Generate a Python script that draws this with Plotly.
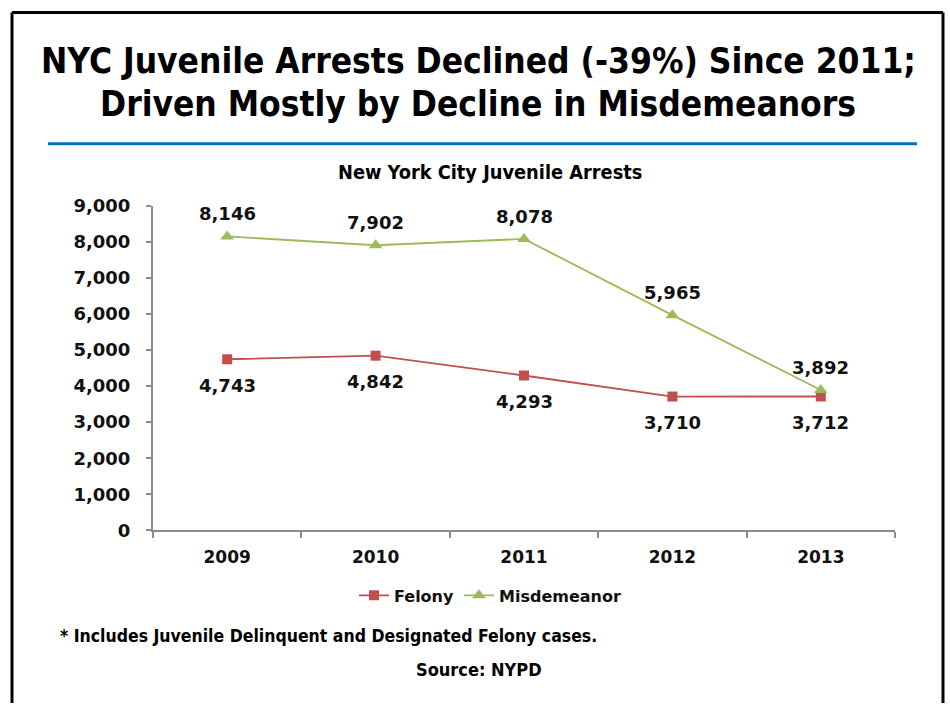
import plotly.graph_objects as go

years = ["2009", "2010", "2011", "2012", "2013"]
felony = [4743, 4842, 4293, 3710, 3712]
misdemeanor = [8146, 7902, 8078, 5965, 3892]
y_ticks = [0, 1000, 2000, 3000, 4000, 5000, 6000, 7000, 8000, 9000]

W, H = 950, 713
# the page is photographed with a small vertical offset/compression; compensate
Y_OFF, Y_SC = 10.3, 0.971

def px(x):
    return x / W

def py(y):
    yf = (y - Y_OFF) / Y_SC
    return 1 - yf / H

def sh(d):
    return d / Y_SC

RED = "#C0504D"
GREEN = "#9BBB59"
AXIS = "#8c8c8c"
NARROW = "Liberation Sans Narrow, DejaVu Sans Condensed, Arial Narrow, sans-serif"
WIDE = "DejaVu Sans, Verdana, sans-serif"
TXT = "#111111"

fig = go.Figure()
fig.add_trace(go.Scatter(x=years, y=felony, name="Felony", mode="lines+markers",
                         line=dict(color=RED, width=1.8),
                         marker=dict(symbol="square", size=10, color=RED)))
fig.add_trace(go.Scatter(x=years, y=misdemeanor, name="Misdemeanor", mode="lines+markers",
                         line=dict(color=GREEN, width=1.8),
                         marker=dict(symbol="triangle-up", size=12, color=GREEN)))

ann = []
for i, v in enumerate(felony):
    ann.append(dict(x=i, y=v, xref="x", yref="y", text=f"{v:,}", showarrow=False,
                    xanchor="center", yanchor="middle", yshift=-sh(25),
                    font=dict(family=WIDE, size=18, color=TXT, weight="bold")))
for i, v in enumerate(misdemeanor):
    ann.append(dict(x=i, y=v, xref="x", yref="y", text=f"{v:,}", showarrow=False,
                    xanchor="center", yanchor="middle", yshift=sh(22),
                    font=dict(family=WIDE, size=18, color=TXT, weight="bold")))

def ptext(x, y, text, size, anchor="center", family=NARROW):
    return dict(x=px(x), y=py(y), xref="paper", yref="paper", showarrow=False,
                xanchor=anchor, yanchor="middle", text=text,
                font=dict(family=family, size=size, color="#000000", weight="bold"))

ann += [
    ptext(478, 60, "NYC Juvenile Arrests Declined (-39%) Since 2011;", 35),
    ptext(478, 103, "Driven Mostly by Decline in Misdemeanors", 35),
    ptext(490, 172, "New York City Juvenile Arrests", 19.8),
    ptext(58, 636, "* Includes Juvenile Delinquent and Designated Felony cases.", 17.5, anchor="left"),
    ptext(479, 669, "Source: NYPD", 18),
]

def pline(x0, y0, x1, y1, color, width):
    return dict(type="line", xref="paper", yref="paper", x0=px(x0), x1=px(x1),
                y0=y0, y1=y1, line=dict(color=color, width=width))

top = 1 - 1.5 / H
shapes = [
    pline(12, top, 943, top, "#000000", 3),
    pline(12, top, 12, 0, "#000000", 3),
    pline(943, top, 943, 0, "#000000", 3),
    pline(48, py(143), 917, py(143), "#0070C0", 3),
]

fig.update_layout(
    width=W, height=H,
    margin=dict(l=0, r=0, t=0, b=0),
    paper_bgcolor="white", plot_bgcolor="white",
    showlegend=True,
    legend=dict(orientation="h", x=px(490), xanchor="center", y=py(595), yanchor="middle",
                font=dict(family=WIDE, size=16, color=TXT, weight="bold"),
                bgcolor="rgba(0,0,0,0)", itemwidth=30, tracegroupgap=0),
    annotations=ann, shapes=shapes,
    xaxis=dict(domain=[px(153), px(895)], type="category", range=[-0.5, 4.5],
               showline=True, linecolor=AXIS, linewidth=2, ticks="outside", tickson="boundaries",
               ticklen=6, tickcolor=AXIS, tickwidth=2, showgrid=False, zeroline=False,
               ticklabelstandoff=10,
               tickfont=dict(family=WIDE, size=17, color=TXT, weight="bold")),
    yaxis=dict(domain=[py(530), py(205)], range=[0, 9000], tickvals=y_ticks, tickformat=",",
               showline=True, linecolor=AXIS, linewidth=2, ticks="outside", ticklen=5,
               tickcolor=AXIS, tickwidth=2, showgrid=False, zeroline=False,
               ticklabelstandoff=12,
               tickfont=dict(family=WIDE, size=18, color=TXT, weight="bold")),
)

fig.write_html("out.html", config={"displayModeBar": False},
               post_script="document.body.style.margin='0';document.body.style.overflow='hidden';")
